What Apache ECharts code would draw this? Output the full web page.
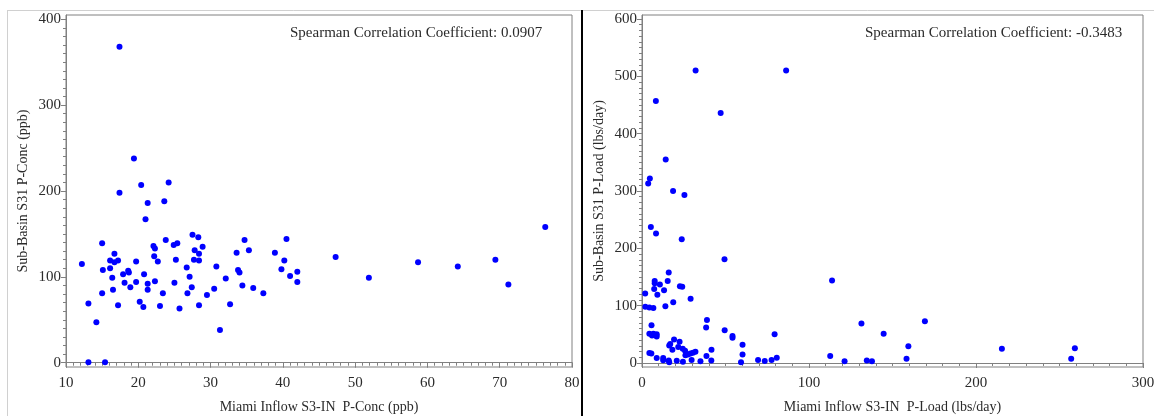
<!DOCTYPE html>
<html>
<head>
<meta charset="utf-8">
<script src="https://cdn.jsdelivr.net/npm/echarts@6/dist/echarts.min.js"></script>
<style>
    html, body { margin: 0; padding: 0; background: #fff; }
    #chart { width: 1154px; height: 416px; }
</style>
</head>
<body>
<div id="chart"></div>
<script>
    // P-Conc (ppb): [Miami Inflow S3-IN, Sub-Basin S31]
    var concPoints = [
        [17.4, 368], [19.4, 238], [17.4, 198], [20.4, 207], [24.2, 210], [21.3, 186], [23.6, 188], [21.0, 167],
        [27.5, 149], [28.3, 146], [23.8, 143], [34.7, 143], [40.5, 144], [15.0, 139], [22.1, 136], [22.3, 133],
        [24.9, 137], [25.4, 139], [28.9, 135], [27.8, 131], [35.3, 131], [16.7, 127], [28.4, 127], [33.6, 128], [38.9, 128],
        [12.2, 115], [16.1, 119], [16.7, 117], [17.2, 119], [19.7, 118], [22.2, 124], [22.7, 118], [25.2, 120],
        [27.7, 120], [28.4, 119], [40.2, 119],
        [15.1, 108], [16.1, 110], [17.9, 103], [18.6, 107], [18.7, 105], [20.8, 103], [26.7, 111], [30.8, 112],
        [33.8, 108], [34.0, 105], [39.8, 109], [42.0, 106], [27.1, 100], [16.4, 99], [41.0, 101],
        [18.1, 93], [19.7, 94], [22.3, 95], [25.0, 93], [21.3, 92], [32.1, 98], [18.9, 88], [27.4, 88],
        [34.4, 90], [35.9, 87], [30.5, 86], [42.0, 94],
        [16.5, 85], [21.3, 85], [15.0, 81], [23.4, 81], [26.8, 81], [29.5, 79], [37.3, 81],
        [13.1, 69], [17.2, 67], [20.2, 71], [20.7, 65], [23.0, 66], [25.7, 63], [28.4, 67], [32.7, 68],
        [14.2, 47], [31.3, 38], [13.1, 0.5], [15.4, 0.5],
        [47.3, 123], [51.9, 99], [58.7, 117], [64.2, 112], [69.4, 120], [71.2, 91], [76.3, 158]
    ];

    // P-Load (lbs/day): [Miami Inflow S3-IN, Sub-Basin S31]
    var loadPoints = [
        [32.1, 510], [86.3, 510], [8.3, 457], [47.1, 436], [14.2, 355], [4.7, 322], [3.7, 313], [18.6, 300], [25.4, 293],
        [5.3, 237], [8.4, 226], [23.8, 216], [49.4, 181], [16.0, 158],
        [7.6, 143], [7.6, 139], [15.4, 143], [10.7, 137], [22.7, 134], [24.1, 133], [7.3, 129], [13.2, 127],
        [9.2, 119], [1.9, 121], [29.1, 112], [18.7, 106],
        [2.0, 98], [4.4, 97], [6.8, 96], [14.0, 99],
        [38.9, 75], [38.4, 62], [5.7, 66],
        [4.4, 51], [6.8, 51], [8.8, 50], [6.0, 48], [8.8, 46],
        [49.5, 57], [54.2, 47], [54.2, 44],
        [60.2, 32], [60.2, 15], [59.3, 1.5],
        [69.5, 5], [73.5, 3.5], [77.6, 5], [80.7, 9], [79.4, 50],
        [19.2, 41], [16.9, 33], [16.3, 30.5], [22.5, 37], [18.2, 23], [21.7, 28], [24.4, 25], [25.8, 21.5],
        [26.0, 13.5], [27.5, 15], [29.0, 16.5], [30.5, 18], [32.0, 19.5],
        [41.6, 23], [38.6, 12], [41.5, 4.5], [35.0, 3], [29.7, 5], [24.5, 2], [20.8, 4], [16.0, 4.5], [16.3, 1.5],
        [12.7, 8.7], [12.7, 4.7], [8.8, 8.7], [4.4, 17.5], [5.6, 16.5],
        [112.7, 12], [113.8, 144], [121.3, 3], [131.4, 69], [134.6, 4.5], [137.7, 3], [144.7, 51],
        [158.4, 7.6], [159.5, 29], [169.4, 73], [215.5, 25], [257.0, 7.6], [259.2, 25.5]
    ];

    var concXTicks = [10, 20, 30, 40, 50, 60, 70, 80];
    var concYTicks = [0, 100, 200, 300, 400];
    var loadXTicks = [0, 100, 200, 300];
    var loadYTicks = [0, 100, 200, 300, 400, 500, 600];

    var coefText = [
        'Spearman Correlation Coefficient: 0.0907',
        'Spearman Correlation Coefficient: -0.3483'
    ];

    // minor tick positions between the major ones
    function minorTicks(major, step) {
        var out = [];
        for (var v = major[0]; v <= major[major.length - 1] + 1e-9; v += step) {
            out.push(Math.round(v * 100) / 100);
        }
        return out;
    }

    var font = 'Liberation Serif, Times New Roman, serif';
    var textColor = '#2b2b2b';
    var frameColor = '#808080';

    function majorAxis(grid, min, max, ticks, name, gap, isY) {
        return {
            type: 'value',
            gridIndex: grid,
            position: isY ? 'left' : 'bottom',
            min: min,
            max: max,
            name: name,
            nameLocation: 'middle',
            nameGap: gap,
            nameRotate: isY ? 90 : 0,
            nameTextStyle: {fontFamily: font, fontSize: 14, color: textColor},
            axisLine: {show: true, lineStyle: {color: frameColor, width: 1}},
            axisTick: {show: true, length: 5, customValues: ticks, lineStyle: {color: frameColor}},
            axisLabel: {
                customValues: ticks,
                margin: isY ? 5 : 9,
                fontFamily: font,
                fontSize: 15,
                color: textColor
            },
            splitLine: {show: false}
        };
    }

    function minorAxis(grid, min, max, ticks, isY) {
        return {
            type: 'value',
            gridIndex: grid,
            position: isY ? 'left' : 'bottom',
            min: min,
            max: max,
            axisLine: {show: false},
            axisTick: {show: true, length: 3, customValues: ticks, lineStyle: {color: frameColor}},
            axisLabel: {show: false},
            splitLine: {show: false}
        };
    }

    var chart = echarts.init(document.getElementById('chart'));

    var titleStyle = {fontFamily: font, fontSize: 15, fontWeight: 'normal', color: textColor};

    var option = {
        backgroundColor: '#fff',
        animation: false,
        title: [
            {text: coefText[0], left: 290, top: 26, padding: 0, textStyle: titleStyle},
            {text: coefText[1], left: 865, top: 26, padding: 0, textStyle: titleStyle}
        ],
        grid: [
            {
                left: 66, top: 15, width: 506, height: 352, outerBoundsMode: 'none',
                show: true, borderColor: frameColor, borderWidth: 1
            },
            {
                left: 642, top: 15, width: 501, height: 352, outerBoundsMode: 'none',
                show: true, borderColor: frameColor, borderWidth: 1
            }
        ],
        xAxis: [
            majorAxis(0, 10, 80, concXTicks, 'Miami Inflow S3-IN  P-Conc (ppb)', 33, false),
            minorAxis(0, 10, 80, minorTicks(concXTicks, 1), false),
            majorAxis(1, 0, 300, loadXTicks, 'Miami Inflow S3-IN  P-Load (lbs/day)', 33, false),
            minorAxis(1, 0, 300, minorTicks(loadXTicks, 10), false)
        ],
        yAxis: [
            majorAxis(0, -5, 405, concYTicks, 'Sub-Basin S31 P-Conc (ppb)', 36, true),
            minorAxis(0, -5, 405, minorTicks(concYTicks, 10), true),
            majorAxis(1, -7, 607, loadYTicks, 'Sub-Basin S31 P-Load (lbs/day)', 36, true),
            minorAxis(1, -7, 607, minorTicks(loadYTicks, 10), true)
        ],
        series: [
            {
                type: 'scatter',
                xAxisIndex: 0,
                yAxisIndex: 0,
                data: concPoints,
                symbolSize: 6,
                itemStyle: {color: '#0000ff', opacity: 1}
            },
            {
                type: 'scatter',
                xAxisIndex: 2,
                yAxisIndex: 2,
                data: loadPoints,
                symbolSize: 6,
                itemStyle: {color: '#0000ff', opacity: 1}
            }
        ],
        graphic: [
            {type: 'line', shape: {x1: 7, y1: 10.5, x2: 1154, y2: 10.5}, style: {stroke: '#d0d0d0', lineWidth: 1}},
            {type: 'line', shape: {x1: 7.5, y1: 10, x2: 7.5, y2: 416}, style: {stroke: '#d0d0d0', lineWidth: 1}},
            {type: 'line', shape: {x1: 582, y1: 10, x2: 582, y2: 416}, style: {stroke: '#000', lineWidth: 2}}
        ]
    };

    chart.setOption(option);
    window.addEventListener('resize', function () {
        chart.resize();
    });
</script>
</body>
</html>
